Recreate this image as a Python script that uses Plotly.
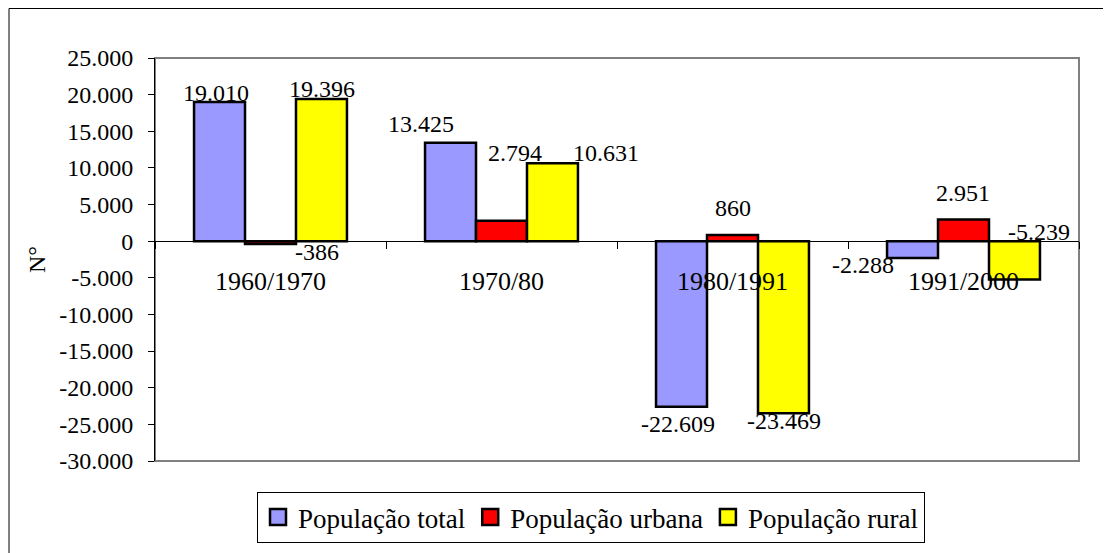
import plotly.graph_objects as go

# ---------------- data ----------------
CATEGORIES = ["1960/1970", "1970/80", "1980/1991", "1991/2000"]
SERIES_NAMES = ["População total", "População urbana", "População rural"]
POP_TOTAL = [19010, 13425, -22609, -2288]
POP_URBANA = [-386, 2794, 860, 2951]
POP_RURAL = [19396, 10631, -23469, -5239]
Y_TICKS = [-30000, -25000, -20000, -15000, -10000, -5000, 0,
           5000, 10000, 15000, 20000, 25000]
Y_TITLE = "N°"

# ---------------- style ----------------
COLORS = ["#9999FF", "#FF0000", "#FFFF00"]
FONT = "Liberation Serif"
W, H = 1111, 553
OFF = 8  # page body margin
M_L, M_T = 155 - OFF, 58 - OFF
PLOT_W, PLOT_H = 924, 403
M_R = W - M_L - PLOT_W
M_B = H - M_T - PLOT_H
BARGAP = 0.338
# label nudges in pixels (dx right, dy down) relative to the bar end, per series/category
LABEL_NUDGE = [
    [(-4, -9), (-30, -19), (-4, 17), (-50, 7)],
    [(46, 8), (13, -68), (0, -27), (-1, -27)],
    [(1, -10), (54, -10), (1, 8), (25, -48)],
]


def fmt(v):
    return f"{v:,}".replace(",", ".")


series = [POP_TOTAL, POP_URBANA, POP_RURAL]

fig = go.Figure()
for name, vals, col in zip(SERIES_NAMES, series, COLORS):
    fig.add_trace(go.Bar(
        x=CATEGORIES, y=vals, name=name, showlegend=False,
        marker=dict(color=col, line=dict(color="black", width=2.5)),
    ))
# legend entries with larger square swatches
for name, col in zip(SERIES_NAMES, COLORS):
    fig.add_trace(go.Scatter(
        x=[None], y=[None], mode="markers", name=name,
        marker=dict(symbol="square", size=16, color=col,
                    line=dict(color="black", width=2.5)),
    ))

# data labels
bar_w = (1 - BARGAP) / 3
annotations = []
for k, vals in enumerate(series):
    for i, v in enumerate(vals):
        dx, dy = LABEL_NUDGE[k][i]
        annotations.append(dict(
            x=i + (k - 1) * bar_w, y=v, xref="x", yref="y",
            text=fmt(v), showarrow=False,
            xshift=dx, yshift=-dy,
            font=dict(family=FONT, size=24, color="black"),
        ))

# y-axis title
annotations.append(dict(
    x=(37 - OFF - M_L) / PLOT_W, y=(M_T + PLOT_H - (260 - OFF)) / PLOT_H,
    xref="paper", yref="paper", text=Y_TITLE, textangle=-90, showarrow=False,
    xanchor="center", yanchor="middle",
    font=dict(family=FONT, size=24, color="black"),
))

ymin, ymax = Y_TICKS[0], Y_TICKS[-1]
zero_pos = (0 - ymin) / (ymax - ymin)

shapes = [
    # plot area frame
    dict(type="rect", xref="paper", yref="paper", x0=0, x1=1, y0=0, y1=1,
         line=dict(color="#808080", width=2), layer="below"),
    # outer chart frame
    dict(type="rect", xref="paper", yref="paper",
         x0=(9 - OFF - M_L) / PLOT_W, x1=(W + 10 - M_L) / PLOT_W,
         y0=-(M_B + 10) / PLOT_H, y1=(PLOT_H + M_T - 0.5) / PLOT_H,
         line=dict(color="black", width=1), layer="below"),
]

fig.update_layout(
    width=W, height=H,
    margin=dict(l=M_L, r=M_R, t=M_T, b=M_B, pad=0),
    paper_bgcolor="white", plot_bgcolor="white",
    barmode="group", bargap=BARGAP, bargroupgap=0,
    font=dict(family=FONT, color="black"),
    annotations=annotations,
    shapes=shapes,
    legend=dict(
        orientation="h", x=(591 - OFF - M_L) / PLOT_W, xanchor="center",
        y=(M_T + PLOT_H - (492 - OFF)) / PLOT_H,
        yanchor="top",
        bordercolor="black", borderwidth=1, bgcolor="white",
        font=dict(family=FONT, size=27, color="black"),
        itemsizing="trace", traceorder="normal",
    ),
    xaxis=dict(
        type="category", anchor="free", position=zero_pos,
        showline=True, linecolor="black", linewidth=1,
        ticks="outside", tickson="boundaries", ticklen=7, tickcolor="black",
        tickfont=dict(family=FONT, size=26, color="black"),
        ticklabelstandoff=17,
        showgrid=False, zeroline=False, fixedrange=True,
    ),
    yaxis=dict(
        range=[ymin, ymax], tickvals=Y_TICKS, ticktext=[fmt(t) for t in Y_TICKS],
        showline=True, linecolor="black", linewidth=1,
        ticks="outside", ticklen=6, tickcolor="black",
        tickfont=dict(family=FONT, size=24, color="black"),
        ticklabelstandoff=10,
        showgrid=False, zeroline=False,
    ),
)

fig.write_html("out.html")
